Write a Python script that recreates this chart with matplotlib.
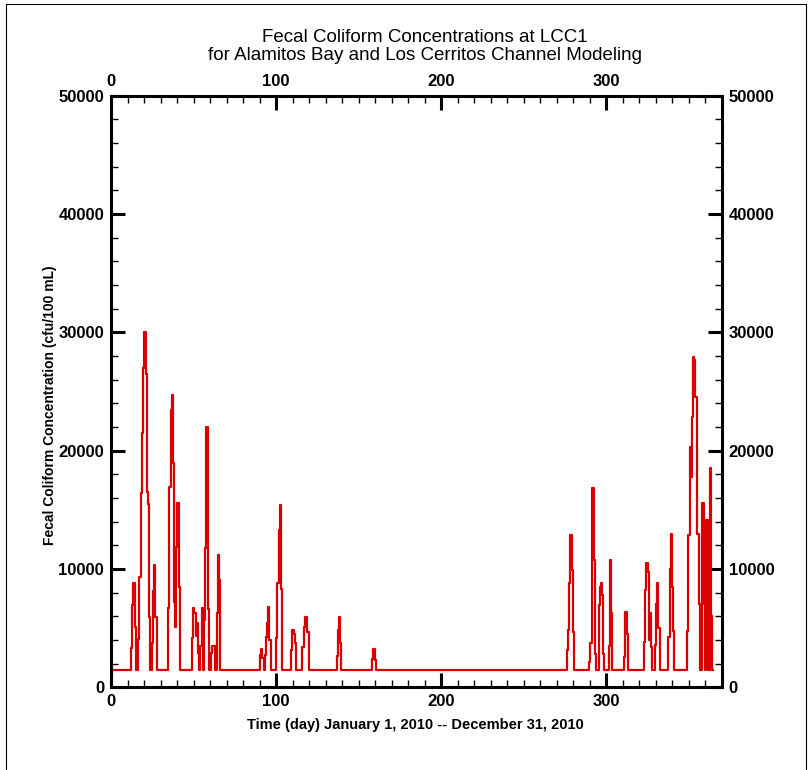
import matplotlib
matplotlib.use("Agg")
import matplotlib.pyplot as plt
from matplotlib.ticker import MultipleLocator
from matplotlib.lines import Line2D

# model output at LCC1, 2010 (day of year, cfu/100 mL); values hold until the next time
days = [0.0, 0.6,
        12.3, 12.9, 13.5, 14.3, 15.1, 16.3, 17.1, 17.9, 18.5, 19.1, 19.5, 20.2,
        21.0, 21.6, 22.0, 22.6, 23.2, 23.9, 24.7, 25.3, 26.0, 26.8, 27.6,
        34.7, 35.1, 36.2, 36.8, 37.6, 38.2, 38.8, 39.4, 40.2, 41.0, 41.8,
        49.3, 49.9, 50.5, 51.3, 52.2, 53.0, 53.6, 54.2, 55.0, 55.6, 56.6,
        57.2, 57.8, 58.6, 59.2, 60.5, 61.3, 63.1, 64.1, 64.7, 65.5, 66.1,
        90.3, 90.9, 91.6, 92.4, 93.4, 94.0, 94.6, 95.4, 96.0, 96.8,
        99.7, 100.5, 101.5, 102.1, 102.9, 103.7,
        109.0, 109.8, 110.6, 111.4, 112.2, 115.7, 116.7, 117.7, 118.7, 119.7,
        137.0, 137.4, 138.0, 138.6, 139.2, 158.1, 158.9, 159.7, 160.3,
        276.0, 276.8, 277.7, 278.3, 279.1, 279.9, 280.7,
        289.4, 290.3, 291.2, 291.7, 292.5, 293.3, 294.1, 295.5, 296.3, 296.9,
        297.5, 298.1, 298.9, 301.6, 302.6, 303.2, 303.8,
        310.7, 311.7, 312.7, 313.3,
        322.9, 323.5, 324.3, 325.1, 325.7, 326.3, 326.9, 327.5,
        329.5, 330.3, 330.9, 331.7, 332.5,
        337.6, 338.4, 339.3, 340.0, 340.4, 340.8, 341.4,
        349.1, 349.7, 350.7, 351.5, 352.1, 352.7, 353.5, 354.1, 355.2, 356.0,
        356.6, 358.2, 359.0, 359.6, 360.6, 361.4, 362.0, 362.7, 363.5, 364.1,
        365.0]
fecal = [900, 1500,
         3350, 6950, 8790, 5070, 1500, 4050, 9350, 16400, 21460, 23070, 26950, 30050,
         26450, 19200, 16500, 15500, 5970, 1500, 3720, 8160, 10330, 5970, 1500,
         6675, 16950, 23430, 24700, 18930, 7240, 5060, 11880, 15550, 8500, 1500,
         4140, 6700, 6250, 4310, 5440, 2890, 1500, 3480, 6675, 1500, 5690,
         11740, 22020, 6580, 1500, 2890, 3450, 1500, 6250, 11180, 9070, 1500,
         2730, 3200, 2450, 1500, 2730, 4270, 5400, 6800, 3990, 1500,
         4130, 8780, 13290, 15400, 8350, 1500,
         3150, 4820, 4540, 3710, 1500, 3430, 5120, 5960, 4700, 1500,
         2645, 4840, 5970, 3720, 1500, 2365, 3210, 2300, 1500,
         3150, 4840, 8790, 12870, 9910, 4700, 1500,
         2150, 3720, 10480, 16820, 10760, 2840, 1500, 6950, 8450, 8790,
         7800, 2840, 1500, 3480, 10760, 6260, 1500,
         2560, 6340, 4500, 1500,
         3800, 8220, 10530, 9760, 4000, 6300, 3400, 1500,
         3540, 7060, 8790, 5000, 1500,
         4290, 9970, 12930, 8500, 4770, 3080, 1500,
         4770, 12870, 20330, 17780, 22870, 27940, 27650, 24570, 12990, 7000,
         1500, 15550, 7000, 1500, 14140, 6000, 1500, 18500, 6000, 1500,
         1500]

day_ticks = [0, 100, 200, 300]
conc_ticks = [0, 10000, 20000, 30000, 40000, 50000]

plt.rcParams["font.family"] = ["Liberation Sans", "DejaVu Sans"]
plt.rcParams["font.weight"] = "bold"

W, H = 809, 770
fig = plt.figure(figsize=(W / 100, H / 100), dpi=100)

# axes box in pixels: x 111..722, y 96..687
ax = fig.add_axes([111 / W, 1 - 687.3 / H, (721.7 - 111) / W, (687.3 - 95.8) / H])
ax.plot(days, fecal, color="#d80000", lw=1.6, drawstyle="steps-post")

ax.set_xlim(0, 370)
ax.set_ylim(0, 50000)
ax.set_xticks(day_ticks)
ax.set_yticks(conc_ticks)
ax.xaxis.set_minor_locator(MultipleLocator(10))
ax.yaxis.set_minor_locator(MultipleLocator(2000))
ax.tick_params(which="both", direction="in", top=True, right=True,
               labeltop=True, labelright=True, labelsize=12, colors="black")
ax.tick_params(which="major", length=10, width=2.2, pad=5)
ax.tick_params(which="minor", length=5, width=1)
for s in ax.spines.values():
    s.set_linewidth(2.2)

fig.text(50 / W, 1 - 405 / H, "Fecal Coliform Concentration (cfu/100 mL)",
         rotation=90, ha="center", va="center", fontsize=10)
fig.text(415 / W, 1 - 725 / H, "Time (day) January 1, 2010 -- December 31, 2010",
         ha="center", va="center", fontsize=10.5)
fig.text(425 / W, 1 - 46.5 / H,
         "Fecal Coliform Concentrations at LCC1\nfor Alamitos Bay and Los Cerritos Channel Modeling",
         ha="center", va="center", fontsize=13.5, fontweight="normal", linespacing=1.0)

# page frame
for xs, ys in [([6, 806], [4, 4]), ([6, 6], [4, 770]), ([806, 806], [4, 770])]:
    fig.add_artist(Line2D([x / W for x in xs], [1 - y / H for y in ys],
                          color="black", lw=0.8))

fig.savefig("out.png", dpi=100)
